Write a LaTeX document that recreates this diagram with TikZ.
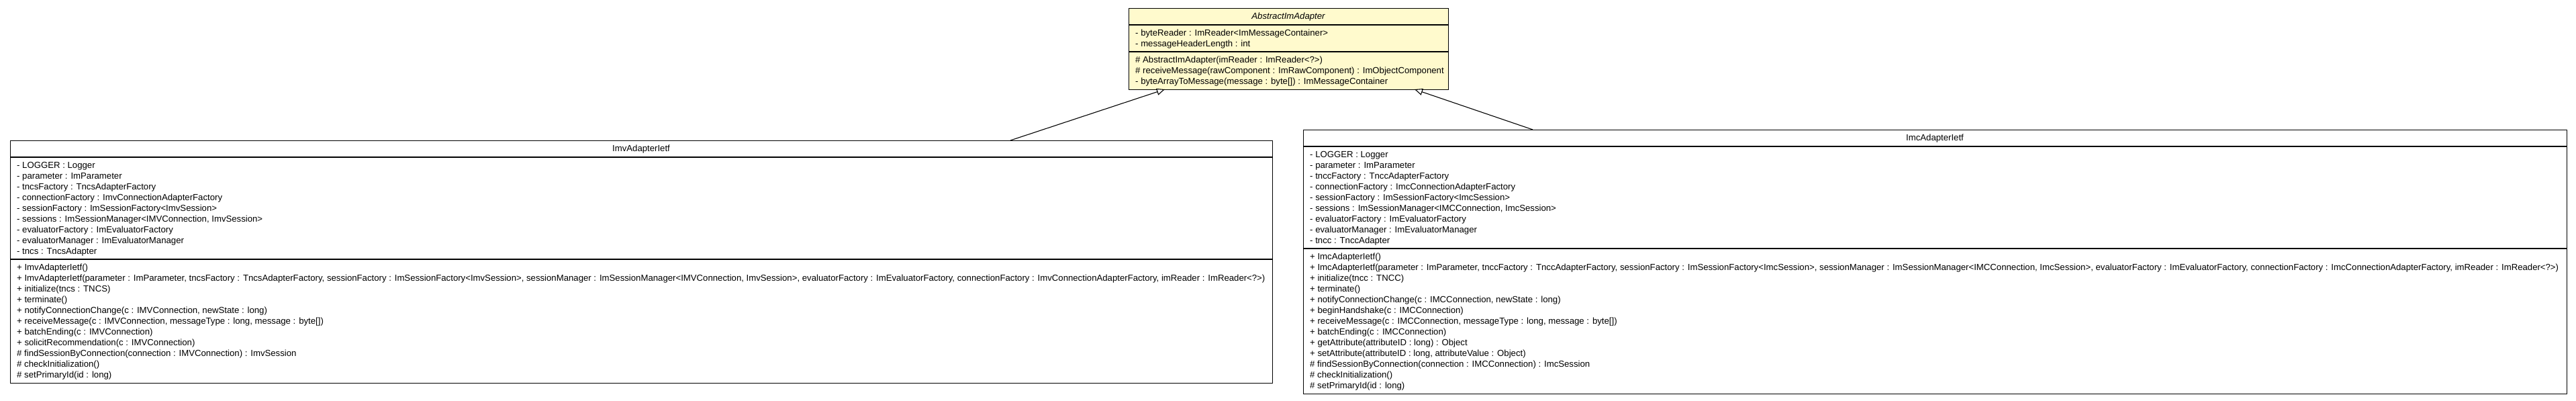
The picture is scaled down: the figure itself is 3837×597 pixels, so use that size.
\documentclass[tikz,border=0pt]{standalone}
\usepackage{fontspec}
\setmainfont{Liberation Sans}
\usetikzlibrary{arrows.meta}
\definecolor{classfill}{HTML}{FFFACD}
\newlength\umlw
\newcommand\umlcompartment[4]{%
  \foreach \t [count=\i] in {#4} {
    \node[umltext, name=#1\i] at (#2, #3+16*\i-16) {\t};
  }}
\begin{document}
\settowidth\umlw{\normalfont\fontsize{10pt}{12pt}\selectfont + ImcAdapterIetf(parameter : ImParameter, tnccFactory : TnccAdapterFactory, sessionFactory : ImSessionFactory<ImcSession>, sessionManager : ImSessionManager<IMCConnection, ImcSession>, evaluatorFactory : ImEvaluatorFactory, connectionFactory : ImcConnectionAdapterFactory, imReader : ImReader<?>)}%
\pgfmathsetmacro\umlfs{(1860/\umlw)*10}%
\def\umlfont{\fontsize{\umlfs pt}{16pt}\selectfont}%
\begin{tikzpicture}[x=1pt,y=-1pt,
  classbox/.style={draw=black, line width=1.3pt, rectangle, inner sep=0pt, anchor=north west},
  umltext/.style={anchor=base west, inner sep=0pt, font=\umlfont},
  umlname/.style={anchor=base, inner sep=0pt, font=\umlfont},
  divider/.style={draw=black, line width=1.3pt},
  inherit/.style={draw=black, line width=1.1pt, -{Triangle[length=12pt,width=10pt,fill=white]}}]
\useasboundingbox (0,0) rectangle (3837,597);

% ---------- AbstractImAdapter ----------
\node[classbox, fill=classfill, minimum width=476pt, minimum height=121pt] (abs) at (1681,12) {};
\draw[divider] (1681,37) -- (2157,37);
\draw[divider] (1681,77) -- (2157,77);
\node[umlname, font=\umlfont\itshape] (absname) at (1919,28.5) {AbstractImAdapter};
\umlcompartment{absa}{1691}{53}{%
  - byteReader : ImReader<ImMessageContainer>,
  - messageHeaderLength : int}
\umlcompartment{absm}{1691}{93}{%
  \# AbstractImAdapter(imReader : ImReader<?>),
  \# receiveMessage(rawComponent : ImRawComponent) : ImObjectComponent,
  - byteArrayToMessage(message : byte[]) : ImMessageContainer}

% ---------- ImvAdapterIetf ----------
\node[classbox, fill=white, minimum width=1880pt, minimum height=361pt] (imv) at (15,209) {};
\draw[divider] (15,234) -- (1895,234);
\draw[divider] (15,386) -- (1895,386);
\node[umlname] (imvname) at (955,225.5) {ImvAdapterIetf};
\umlcompartment{imva}{25}{250}{%
  - LOGGER : Logger,
  - parameter : ImParameter,
  - tncsFactory : TncsAdapterFactory,
  - connectionFactory : ImvConnectionAdapterFactory,
  - sessionFactory : ImSessionFactory<ImvSession>,
  {- sessions : ImSessionManager<IMVConnection, ImvSession>},
  - evaluatorFactory : ImEvaluatorFactory,
  - evaluatorManager : ImEvaluatorManager,
  - tncs : TncsAdapter}
\umlcompartment{imvm}{25}{402}{%
  + ImvAdapterIetf(),
  {+ ImvAdapterIetf(parameter : ImParameter, tncsFactory : TncsAdapterFactory, sessionFactory : ImSessionFactory<ImvSession>, sessionManager : ImSessionManager<IMVConnection, ImvSession>, evaluatorFactory : ImEvaluatorFactory, connectionFactory : ImvConnectionAdapterFactory, imReader : ImReader<?>)},
  + initialize(tncs : TNCS),
  + terminate(),
  {+ notifyConnectionChange(c : IMVConnection, newState : long)},
  {+ receiveMessage(c : IMVConnection, messageType : long, message : byte[])},
  + batchEnding(c : IMVConnection),
  + solicitRecommendation(c : IMVConnection),
  \# findSessionByConnection(connection : IMVConnection) : ImvSession,
  \# checkInitialization(),
  \# setPrimaryId(id : long)}

% ---------- ImcAdapterIetf ----------
\node[classbox, fill=white, minimum width=1882pt, minimum height=393pt] (imc) at (1941,193) {};
\draw[divider] (1941,218) -- (3823,218);
\draw[divider] (1941,370) -- (3823,370);
\node[umlname] (imcname) at (2882,209.5) {ImcAdapterIetf};
\umlcompartment{imca}{1951}{234}{%
  - LOGGER : Logger,
  - parameter : ImParameter,
  - tnccFactory : TnccAdapterFactory,
  - connectionFactory : ImcConnectionAdapterFactory,
  - sessionFactory : ImSessionFactory<ImcSession>,
  {- sessions : ImSessionManager<IMCConnection, ImcSession>},
  - evaluatorFactory : ImEvaluatorFactory,
  - evaluatorManager : ImEvaluatorManager,
  - tncc : TnccAdapter}
\umlcompartment{imcm}{1951}{386}{%
  + ImcAdapterIetf(),
  {+ ImcAdapterIetf(parameter : ImParameter, tnccFactory : TnccAdapterFactory, sessionFactory : ImSessionFactory<ImcSession>, sessionManager : ImSessionManager<IMCConnection, ImcSession>, evaluatorFactory : ImEvaluatorFactory, connectionFactory : ImcConnectionAdapterFactory, imReader : ImReader<?>)},
  + initialize(tncc : TNCC),
  + terminate(),
  {+ notifyConnectionChange(c : IMCConnection, newState : long)},
  + beginHandshake(c : IMCConnection),
  {+ receiveMessage(c : IMCConnection, messageType : long, message : byte[])},
  + batchEnding(c : IMCConnection),
  + getAttribute(attributeID : long) : Object,
  {+ setAttribute(attributeID : long, attributeValue : Object)},
  \# findSessionByConnection(connection : IMCConnection) : ImcSession,
  \# checkInitialization(),
  \# setPrimaryId(id : long)}

% ---------- inheritance connectors ----------
\coordinate (imvport) at (1505,209);
\coordinate (abstipL) at (1735,133);
\coordinate (imcport) at (2283,193);
\coordinate (abstipR) at (2107,133);
\draw[inherit] (imvport) -- (abstipL);
\draw[inherit] (imcport) -- (abstipR);
\end{tikzpicture}
\end{document}
